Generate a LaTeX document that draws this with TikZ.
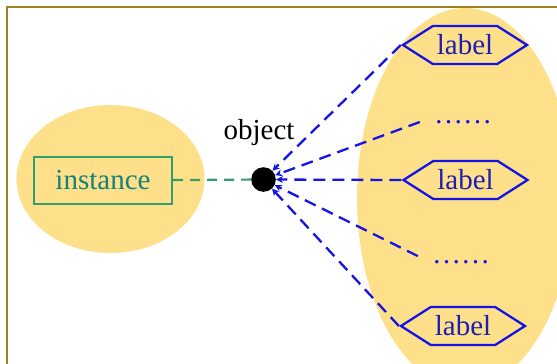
\documentclass[tikz,border=0pt]{standalone}
\usepackage{fontspec}
\setmainfont{Liberation Serif}
\usetikzlibrary{shapes.geometric, shapes.symbols, arrows.meta, positioning}

\definecolor{framegold}{RGB}{160,128,32}
\definecolor{setfill}{RGB}{255,224,138}
\definecolor{instgreen}{RGB}{50,160,110}
\definecolor{insttext}{RGB}{20,130,120}
\definecolor{linkblue}{RGB}{20,20,230}
\definecolor{labeltext}{RGB}{30,30,180}

\begin{document}
\begin{tikzpicture}[x=1pt, y=-1pt,
    font=\fontsize{29}{34}\selectfont,
    setbg/.style={ellipse, fill=setfill, draw=none, inner sep=0pt},
    instbox/.style={rectangle, draw=instgreen, line width=2.2pt, text=insttext, minimum width=138pt, minimum height=47pt, inner sep=2pt},
    labelbox/.style={signal, signal to=west and east, signal pointer angle=65, draw=linkblue, line width=2.3pt, text=labeltext, minimum width=124pt, minimum height=38pt, inner sep=2pt},
    moredots/.style={text=linkblue, inner xsep=14pt, inner ysep=4pt},
    objdot/.style={circle, fill=black, minimum size=24.6pt, inner sep=0pt},
    instlink/.style={draw=instgreen, line width=2.2pt, dash pattern=on 10pt off 7pt},
    labellink/.style={draw=linkblue, line width=2.3pt, dash pattern=on 12pt off 7pt, -{Stealth[length=7pt, width=7pt]}}
]
    \useasboundingbox (0,0) rectangle (557,364);
    \clip (0,0) rectangle (557,364);

    % Draw background ellipses
    \node[setbg, minimum width=188pt, minimum height=148pt] (instset) at (110.5,179) {};
    \node[setbg, minimum width=216pt, minimum height=380pt] (labelset) at (465,198) {};

    % Draw outer frame (right and bottom edges fall outside)
    \draw[framegold, line width=2.2pt] (7,7) rectangle (580,400);

    % Draw instance box and object point
    \node[instbox] (inst) at (103,180.5) {instance};
    \node[objdot] (obj) at (263.5,179.5) {};
    \node (objname) at (259,132.5) {object};

    % Draw label hexagons and elided entries
    \node[labelbox] (lab1) at (465,45) {label};
    \node[moredots] (more1) at (463,122) {……};
    \node[labelbox] (lab2) at (465.5,180) {label};
    \node[moredots] (more2) at (461,262) {……};
    \node[labelbox] (lab3) at (463,326) {label};

    % Draw connectors
    \draw[instlink] (inst) -- (obj);
    \foreach \src in {lab1.west, more1.west, lab2.west, more2.north west, lab3.west}
        \draw[labellink] (\src) -- (obj);
\end{tikzpicture}
\end{document}
